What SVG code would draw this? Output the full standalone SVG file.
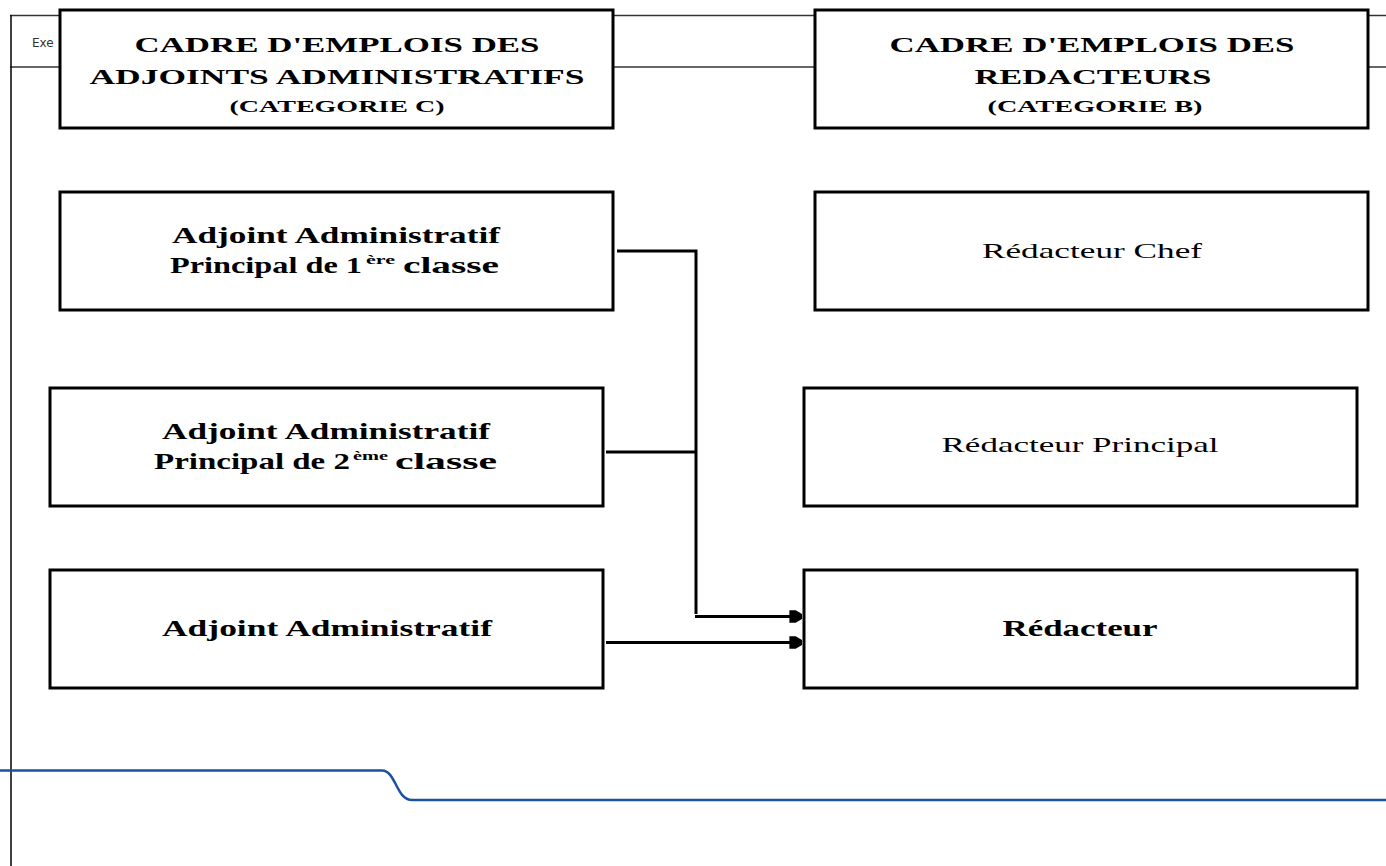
<svg xmlns="http://www.w3.org/2000/svg" width="1386" height="866" viewBox="0 0 1386 866">
<defs>
<style>
.box{fill:#fff;stroke:#000;stroke-width:3}
.t{font-family:"Liberation Serif","Times New Roman",serif;fill:#000;text-anchor:middle}
.l{text-anchor:start}
.h{font-size:22px;font-weight:bold}
.s{font-size:16px;font-weight:bold}
.n{font-size:23px;font-weight:bold}
.r{font-size:22px}
.sup{font-size:13px;font-weight:bold}
.c{fill:none;stroke:#000;stroke-width:3}
</style>
<marker id="arr" viewBox="0 0 10 10" refX="10" refY="5" markerWidth="7" markerHeight="4.2" markerUnits="strokeWidth" orient="auto">
<path d="M0,0 L5,0 L10,3 L10,7 L5,10 L0,10 Z" fill="#000"/>
</marker>
</defs>
<rect width="1386" height="866" fill="#fff"/>
<g id="frame">
<line x1="10" y1="15.5" x2="1386" y2="15.5" stroke="#333" stroke-width="1.5"/>
<line x1="10" y1="67" x2="1386" y2="67" stroke="#333" stroke-width="1.5"/>
<line x1="11" y1="15" x2="11" y2="866" stroke="#000" stroke-width="1.5"/>
<text x="32" y="47" font-family="DejaVu Sans,sans-serif" font-size="12" fill="#333">Exe</text>
<path d="M0,770.5 L382,770.5 C396,770.5 396,800 412,800 L1386,800" fill="none" stroke="#1a52a0" stroke-width="2.5"/>
</g>
<g id="hdrC">
<rect class="box" x="60" y="10" width="553" height="118"/>
<text class="t h" x="337" y="52" textLength="405" lengthAdjust="spacingAndGlyphs">CADRE D'EMPLOIS DES</text>
<text class="t h" x="337" y="84" textLength="495" lengthAdjust="spacingAndGlyphs">ADJOINTS ADMINISTRATIFS</text>
<text class="t s" x="337" y="112" textLength="215" lengthAdjust="spacingAndGlyphs">(CATEGORIE C)</text>
</g>
<g id="hdrB">
<rect class="box" x="815" y="10" width="553" height="118"/>
<text class="t h" x="1092" y="52" textLength="405" lengthAdjust="spacingAndGlyphs">CADRE D'EMPLOIS DES</text>
<text class="t h" x="1093" y="84" textLength="237" lengthAdjust="spacingAndGlyphs">REDACTEURS</text>
<text class="t s" x="1095" y="112" textLength="215" lengthAdjust="spacingAndGlyphs">(CATEGORIE B)</text>
</g>
<g id="aap1">
<rect class="box" x="60" y="192" width="553" height="118"/>
<text class="t n" x="336" y="243" textLength="328" lengthAdjust="spacingAndGlyphs">Adjoint Administratif</text>
<text class="t n l" x="170" y="273" textLength="192" lengthAdjust="spacingAndGlyphs">Principal de 1</text>
<text class="t sup l" x="366" y="264" textLength="29" lengthAdjust="spacingAndGlyphs">ère</text>
<text class="t n l" x="403" y="273" textLength="96" lengthAdjust="spacingAndGlyphs">classe</text>
</g>
<g id="aap2">
<rect class="box" x="50" y="388" width="553" height="118"/>
<text class="t n" x="326" y="439" textLength="328" lengthAdjust="spacingAndGlyphs">Adjoint Administratif</text>
<text class="t n l" x="154" y="469" textLength="196" lengthAdjust="spacingAndGlyphs">Principal de 2</text>
<text class="t sup l" x="353" y="460" textLength="35" lengthAdjust="spacingAndGlyphs">ème</text>
<text class="t n l" x="395" y="469" textLength="102" lengthAdjust="spacingAndGlyphs">classe</text>
</g>
<g id="aa">
<rect class="box" x="50" y="570" width="553" height="118"/>
<text class="t n" x="327" y="636" textLength="330" lengthAdjust="spacingAndGlyphs">Adjoint Administratif</text>
</g>
<g id="rchef">
<rect class="box" x="815" y="192" width="553" height="118"/>
<text class="t r" x="1092" y="258" textLength="220" lengthAdjust="spacingAndGlyphs">Rédacteur Chef</text>
</g>
<g id="rprinc">
<rect class="box" x="804" y="388" width="553" height="118"/>
<text class="t r" x="1080" y="452" textLength="277" lengthAdjust="spacingAndGlyphs">Rédacteur Principal</text>
</g>
<g id="red">
<rect class="box" x="804" y="570" width="553" height="118"/>
<text class="t n" x="1080" y="636" textLength="155" lengthAdjust="spacingAndGlyphs">Rédacteur</text>
</g>
<g id="connectors">
<polyline class="c" points="617,251 696,251 696,614"/>
<line class="c" x1="606" y1="452" x2="696" y2="452"/>
<line class="c" x1="695" y1="616.5" x2="802" y2="616.5" marker-end="url(#arr)"/>
<line class="c" x1="606" y1="642.5" x2="802" y2="642.5" marker-end="url(#arr)"/>
</g>
</svg>
